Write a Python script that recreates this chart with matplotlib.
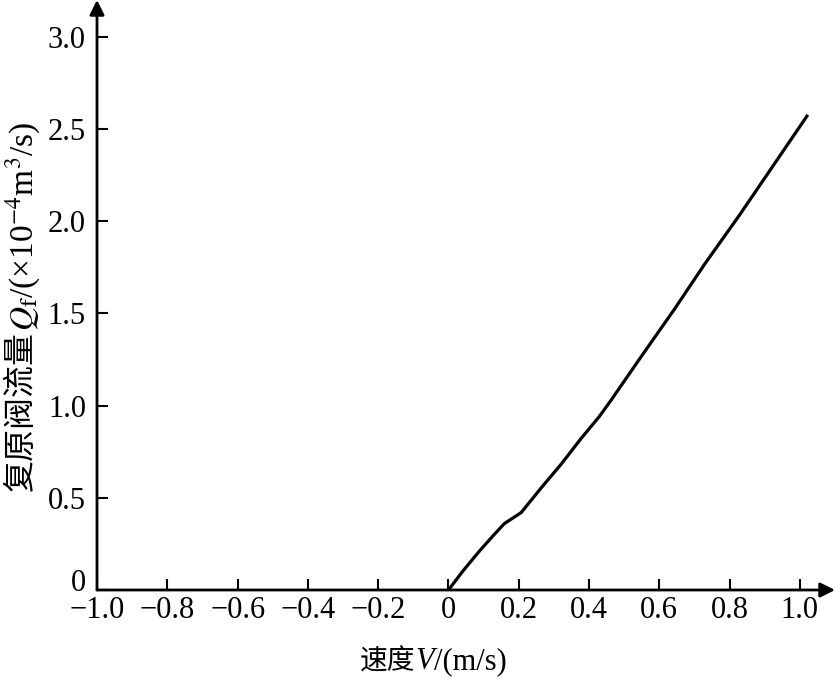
import numpy as np
import matplotlib.pyplot as plt
from matplotlib.transforms import ScaledTranslation

plt.rcParams['font.family'] = ['Liberation Serif', 'Noto Sans CJK SC', 'DejaVu Sans']
plt.rcParams['mathtext.fontset'] = 'stix'
plt.rcParams['axes.unicode_minus'] = True

# curve
speed = [0, 0.04, 0.085, 0.125, 0.159, 0.207, 0.264, 0.321, 0.378, 0.429, 0.463,
         0.55, 0.642, 0.73, 0.827, 0.92, 1.02]
flow = [0, 0.10, 0.204, 0.29, 0.36, 0.42, 0.554, 0.683, 0.823, 0.94, 1.03,
        1.27, 1.52, 1.77, 2.03, 2.29, 2.57]

xticks = [-1.0, -0.8, -0.6, -0.4, -0.2, 0, 0.2, 0.4, 0.6, 0.8, 1.0]
xticklabels = ['−1.0', '−0.8', '−0.6', '−0.4', '−0.2', '0', '0.2', '0.4', '0.6', '0.8', '1.0']
yticks = [0, 0.5, 1.0, 1.5, 2.0, 2.5, 3.0]
yticklabels = ['0', '0.5', '1.0', '1.5', '2.0', '2.5', '3.0']

W, H = 835, 679
fig = plt.figure(figsize=(W / 100, H / 100), dpi=100)
ax = fig.add_axes([97 / W, 89 / H, 738 / W, 590 / H])

ax.plot(speed, flow, color='black', lw=2.3, solid_joinstyle='round')

ax.set_xlim(-1.0, 1.1)
ax.set_ylim(0, 3.2)
for s in ax.spines.values():
    s.set_visible(False)

# axes with arrows
arrow = dict(arrowstyle='-|>', color='black', lw=2, mutation_scale=22, shrinkA=0, shrinkB=0)
ax.annotate('', xy=(1, 0), xytext=(0, 0), xycoords='axes fraction', arrowprops=arrow)
ax.annotate('', xy=(0, 1), xytext=(0, 0), xycoords='axes fraction', arrowprops=arrow)

ax.set_xticks(xticks)
ax.set_xticklabels(xticklabels)
ax.set_yticks(yticks)
ax.set_yticklabels(yticklabels)
ax.tick_params(direction='in', length=8, width=1.5, labelsize=22)
ax.tick_params(axis='x', pad=4)
ax.tick_params(axis='y', pad=8)
# lift the y "0" a little so it clears the x "-1.0"
lbl0 = ax.get_yticklabels()[0]
lbl0.set_transform(lbl0.get_transform() + ScaledTranslation(0, 7 / 72, fig.dpi_scale_trans))

# axis titles built from pieces (CJK + serif/math)
fig.canvas.draw()
r = fig.canvas.get_renderer()

# x label centred at (433, 658) px from top-left
yc = (H - 658) / H
parts = [fig.text(0, yc, '速度', family='Noto Sans CJK SC', fontsize=20, va='center_baseline'),
         fig.text(0, yc, 'V', fontsize=22, style='italic', va='center_baseline'),
         fig.text(0, yc, '/(m/s)', fontsize=22, va='center_baseline')]
widths = [p.get_window_extent(r).width for p in parts]
x = 433 - sum(widths) / 2
for p, w in zip(parts, widths):
    p.set_x(x / W)
    x += w

# y label centred at (21, 306) px from top-left, reading bottom to top
ya = fig.text(0, 0, '复原阀流量', family='Noto Sans CJK SC', fontsize=23,
              rotation=90, va='bottom', ha='center')
yb = fig.text(0, 0, '$Q_\\mathrm{f}$/(×10$^{-4}$m$^3$/s)', fontsize=24,
              rotation=90, va='bottom', ha='center')
ha_ = ya.get_window_extent(r).height
hb_ = yb.get_window_extent(r).height
y0 = (H - 306) - (ha_ + hb_) / 2
ya.set_position((21 / W, y0 / H))
yb.set_position((23 / W, (y0 + ha_) / H))

plt.savefig('out.png', dpi=100)
